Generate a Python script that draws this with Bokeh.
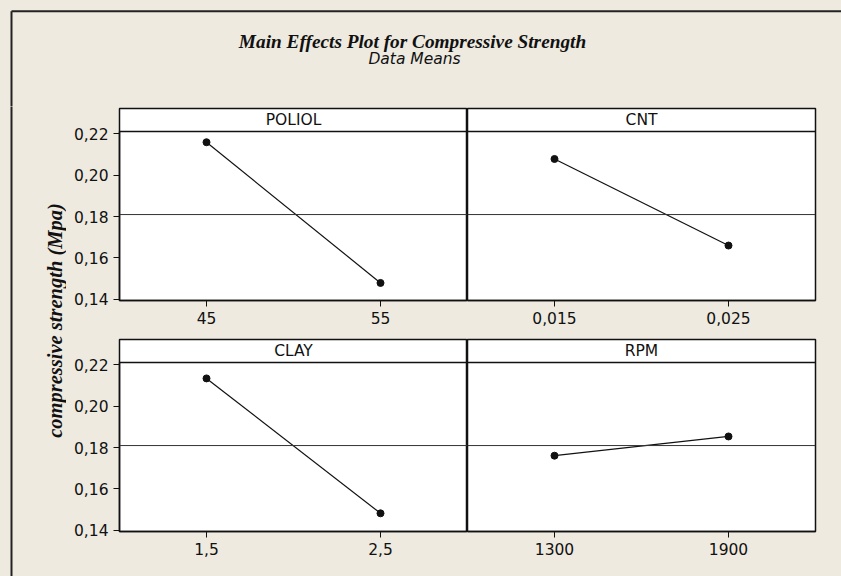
import math

from bokeh.plotting import figure
from bokeh.models import Range1d, FixedTicker, Span, Label, CustomJSTickFormatter
from bokeh.layouts import row, column
from bokeh.embed import file_html
from bokeh.resources import INLINE

# ---- data: level means of compressive strength for each factor ----
factor_names = ["POLIOL", "CNT", "CLAY", "RPM"]
poliol_levels = ["45", "55"]
poliol_means = [0.2160, 0.1479]
cnt_levels = ["0,015", "0,025"]
cnt_means = [0.2079, 0.1660]
clay_levels = ["1,5", "2,5"]
clay_means = [0.2135, 0.1482]
rpm_levels = ["1300", "1900"]
rpm_means = [0.1761, 0.1854]
grand_mean = 0.181
y_ticks = [0.14, 0.16, 0.18, 0.20, 0.22]

title_text = "Main Effects Plot for Compressive Strength"
subtitle_text = "Data Means"
y_label_text = "compressive strength (Mpa)"

# ---- styling / geometry ----
BG = "#EEEAE0"
INK = "#111111"
FRAME_INK = "#222222"
TICK_FONT = "DejaVu Sans"
TICK_SIZE = "15.5px"
SERIF = "Liberation Serif"

W, H = 841, 576
LABEL_W = 66          # left strip holding the rotated y label
TITLE_H = 106
PANEL_W = 348
PANEL_LEFT = 119      # x of the left panels' frame
PLOT_PX = 169         # height of the data area of each panel
STRIP_PX = 23         # height of the factor-name strip
FRAME_H = PLOT_PX + STRIP_PX
ROW1_BOTTOM = 37
ROW2_BOTTOM = H - TITLE_H - (2 + FRAME_H + ROW1_BOTTOM) - (2 + FRAME_H)
BORDER_X, BORDER_Y = 11, 10.7

Y_LO, Y_TOP = 0.1394, 0.2212
Y_HI = Y_TOP + STRIP_PX * (Y_TOP - Y_LO) / PLOT_PX

y_formatter_code = "return tick.toFixed(2).replace('.', ',')"


def make_panel(name, levels, means, left_col, bottom_border):
    n = len(levels)
    xs = list(range(n))
    p = figure(
        frame_width=PANEL_W, frame_height=FRAME_H,
        x_range=Range1d(-0.5, n - 0.5), y_range=Range1d(Y_LO, Y_HI),
        y_axis_location="left" if left_col else None,
        output_backend="svg", toolbar_location=None,
        min_border_left=(PANEL_LEFT - LABEL_W) if left_col else 0,
        min_border_right=0 if left_col else W - (PANEL_LEFT + 2 * PANEL_W),
        min_border_top=2, min_border_bottom=bottom_border,
    )
    p.background_fill_color = "white"
    p.border_fill_color = BG
    p.outline_line_color = INK
    p.outline_line_width = 1.5
    p.xgrid.grid_line_color = None
    p.ygrid.grid_line_color = None

    ax = p.xaxis[0]
    ax.ticker = FixedTicker(ticks=xs)
    ax.major_label_overrides = {i: lv for i, lv in zip(xs, levels)}
    axes = [ax]
    if left_col:
        ay = p.yaxis[0]
        ay.ticker = FixedTicker(ticks=y_ticks)
        ay.formatter = CustomJSTickFormatter(code=y_formatter_code)
        ay.bounds = (Y_LO, Y_TOP)
        axes.append(ay)
    for a in axes:
        a.axis_line_color = INK
        a.axis_line_width = 1.5
        a.major_tick_line_color = INK
        a.major_tick_line_width = 1
        a.major_tick_out = 6
        a.major_tick_in = 0
        a.minor_tick_line_color = None
        a.major_label_text_font = TICK_FONT
        a.major_label_text_font_size = TICK_SIZE
        a.major_label_text_color = INK
        a.major_label_standoff = 5

    # strip with the factor name
    p.add_layout(Span(location=Y_TOP, dimension="width",
                      line_color=INK, line_width=1.5))
    p.add_layout(Label(x=(n - 1) / 2, y=(Y_TOP + Y_HI) / 2, text=name,
                       text_align="center", text_baseline="middle",
                       text_font=TICK_FONT, text_font_size=TICK_SIZE,
                       text_color=INK))

    # overall mean reference line
    p.add_layout(Span(location=grand_mean, dimension="width",
                      line_color="#333333", line_width=1))

    p.line(xs, means, line_color=INK, line_width=1.2)
    p.scatter(xs, means, size=7, color=INK)
    return p


tl = make_panel(factor_names[0], poliol_levels, poliol_means, True, ROW1_BOTTOM)
tr = make_panel(factor_names[1], cnt_levels, cnt_means, False, ROW1_BOTTOM)
bl = make_panel(factor_names[2], clay_levels, clay_means, True, ROW2_BOTTOM)
br = make_panel(factor_names[3], rpm_levels, rpm_means, False, ROW2_BOTTOM)


def blank(width, height):
    f = figure(width=width, height=height,
               x_range=Range1d(0, width), y_range=Range1d(height, 0),
               x_axis_location=None, y_axis_location=None,
               output_backend="svg", toolbar_location=None, min_border=0)
    f.grid.grid_line_color = None
    f.outline_line_color = None
    f.background_fill_color = BG
    f.border_fill_color = BG
    return f


# ---- title block across the full width, with the outer frame corner ----
title_fig = blank(W, TITLE_H)
title_fig.segment(x0=[BORDER_X, BORDER_X], y0=[BORDER_Y, BORDER_Y],
                  x1=[W, BORDER_X], y1=[BORDER_Y, TITLE_H + 1],
                  line_color=FRAME_INK, line_width=2)
title_fig.add_layout(Label(x=412, y=41, text=title_text,
                           text_align="center", text_baseline="alphabetic",
                           text_font=SERIF, text_font_style="bold italic",
                           text_font_size="19.3px", text_color=INK))
title_fig.add_layout(Label(x=414, y=58, text=subtitle_text,
                           text_align="center", text_baseline="alphabetic",
                           text_font=TICK_FONT, text_font_style="italic",
                           text_font_size=TICK_SIZE, text_color=INK))

# ---- left strip with the y label and the frame's left edge ----
lab_h = H - TITLE_H
lab_fig = blank(LABEL_W, lab_h)
lab_fig.segment(x0=[BORDER_X], y0=[-1], x1=[BORDER_X], y1=[lab_h],
                line_color=FRAME_INK, line_width=2)
lab_fig.add_layout(Label(x=54, y=320 - TITLE_H, text=y_label_text,
                         angle=math.pi / 2,
                         text_align="center", text_baseline="middle",
                         text_font=SERIF, text_font_style="bold italic",
                         text_font_size="20.5px", text_color=INK))

bg_style = {"background-color": BG}
panels = column(row(tl, tr, styles=bg_style), row(bl, br, styles=bg_style),
                styles=bg_style)
layout = column(title_fig, row(lab_fig, panels, styles=bg_style),
                styles=bg_style)

open("out.html", "w").write(file_html(layout, INLINE))
